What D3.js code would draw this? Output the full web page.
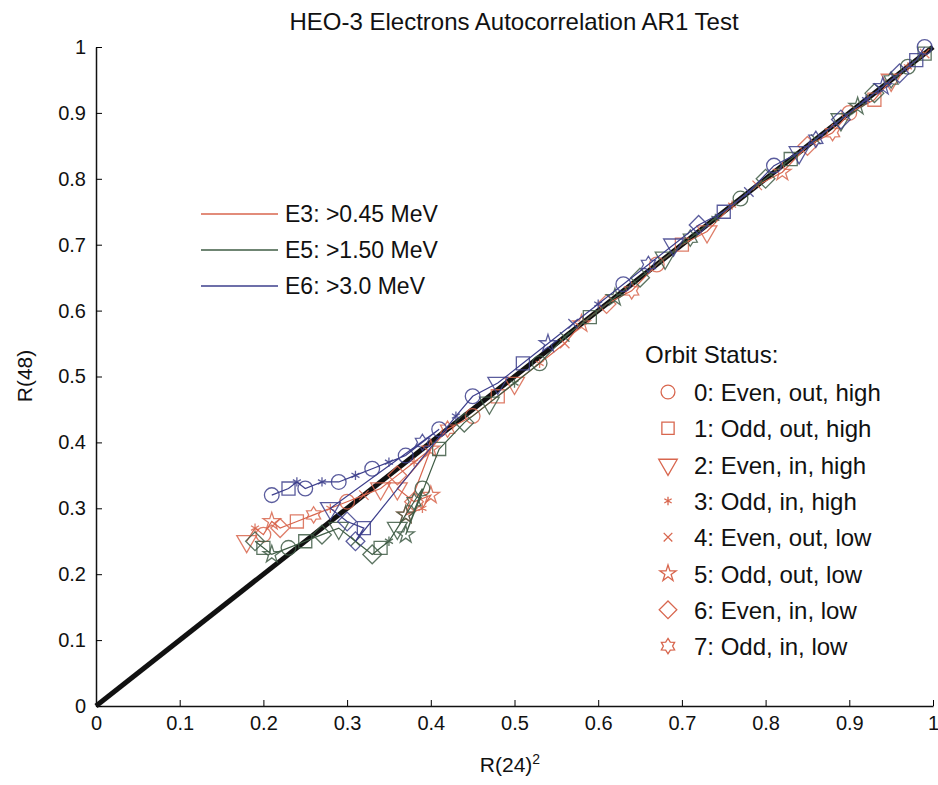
<!DOCTYPE html>
<html>
<head>
<script src="https://cdn.jsdelivr.net/npm/d3@7"></script>
<style>
body { margin: 0; background: #fff; }
text { font-family: Arial, "Liberation Sans", sans-serif; fill: #111; }
</style>
</head>
<body>
<svg id="chart" width="938" height="785"></svg>
<script>
// E3 (>0.45 MeV): x = R(24)^2, y = R(48), s = orbit status
var e3x = [0.18,0.19,0.20,0.21,0.22,0.24,0.26,0.28,0.30,0.32,0.34,0.36,0.38,0.40,0.37,0.39,0.40,0.38,0.36,0.42,0.45,0.48,0.50,0.53,0.56,0.58,0.61,0.64,0.67,0.70,0.73,0.76,0.79,0.82,0.85,0.88,0.90,0.93,0.95,0.97,0.99];
var e3y = [0.25,0.27,0.26,0.28,0.27,0.28,0.29,0.30,0.31,0.32,0.33,0.35,0.37,0.39,0.29,0.30,0.32,0.31,0.33,0.42,0.44,0.47,0.49,0.52,0.55,0.58,0.61,0.63,0.67,0.70,0.72,0.76,0.79,0.81,0.85,0.87,0.90,0.92,0.95,0.97,0.99];
var e3s = [2,3,0,5,6,1,7,3,0,4,2,6,3,5,5,3,5,6,2,7,0,1,2,3,4,5,6,7,0,1,2,3,4,5,6,7,0,1,2,3,4];
// E5 (>1.50 MeV)
var e5x = [0.19,0.20,0.21,0.23,0.25,0.27,0.29,0.31,0.33,0.34,0.35,0.36,0.37,0.38,0.39,0.37,0.41,0.44,0.47,0.50,0.53,0.56,0.59,0.62,0.65,0.68,0.71,0.74,0.77,0.80,0.83,0.86,0.89,0.91,0.93,0.95,0.97,0.99];
var e5y = [0.25,0.24,0.23,0.24,0.25,0.26,0.27,0.25,0.23,0.24,0.25,0.27,0.29,0.31,0.33,0.26,0.39,0.43,0.46,0.49,0.52,0.56,0.59,0.62,0.65,0.68,0.71,0.74,0.77,0.80,0.83,0.86,0.89,0.91,0.93,0.95,0.97,0.99];
var e5s = [6,1,5,0,1,6,2,4,6,1,3,2,5,7,0,5,1,6,2,3,0,4,1,5,6,2,7,3,0,6,1,4,2,5,6,7,0,1];
// E6 (>3.0 MeV)
var e6x = [0.21,0.23,0.24,0.25,0.27,0.29,0.31,0.33,0.35,0.37,0.39,0.41,0.28,0.30,0.32,0.31,0.43,0.45,0.48,0.51,0.54,0.57,0.60,0.63,0.66,0.69,0.72,0.75,0.78,0.81,0.84,0.86,0.89,0.92,0.94,0.96,0.98,0.99];
var e6y = [0.32,0.33,0.34,0.33,0.34,0.34,0.35,0.36,0.37,0.38,0.40,0.42,0.30,0.28,0.27,0.25,0.44,0.47,0.49,0.52,0.55,0.58,0.61,0.64,0.67,0.70,0.73,0.75,0.78,0.82,0.84,0.86,0.89,0.92,0.94,0.96,0.98,1.00];
var e6s = [0,1,3,0,3,0,3,0,3,0,7,0,2,6,1,6,3,0,2,1,5,4,3,0,7,2,6,1,4,0,2,7,6,3,5,6,1,0];

var seriesNames = ["E3: >0.45 MeV", "E5: >1.50 MeV", "E6: >3.0 MeV"];
var seriesColors = ["#d8664e", "#3f5c45", "#3d3f8c"];
var statusNames = ["0: Even, out, high","1: Odd, out, high","2: Even, in, high","3: Odd, in, high","4: Even, out, low","5: Odd, out, low","6: Even, in, low","7: Odd, in, low"];
var ticks = [0,0.1,0.2,0.3,0.4,0.5,0.6,0.7,0.8,0.9,1];

var svg = d3.select("#chart");
var x = d3.scaleLinear().domain([0,1]).range([96,933]);
var y = d3.scaleLinear().domain([0,1]).range([706,47]);

var fmt = function(d){ return d === 0 || d === 1 ? String(d) : d3.format(".1f")(d); };

var gx = svg.append("g").attr("transform","translate(0,706)")
  .call(d3.axisBottom(x).tickValues(ticks).tickFormat(fmt).tickSizeInner(-6).tickSizeOuter(0).tickPadding(10));
var gy = svg.append("g").attr("transform","translate(96,0)")
  .call(d3.axisLeft(y).tickValues(ticks).tickFormat(fmt).tickSizeInner(-6).tickSizeOuter(0).tickPadding(10));
[gx,gy].forEach(function(g){
  g.selectAll("text").style("font-size","20px").style("font-family","Arial, 'Liberation Sans', sans-serif");
  g.select(".domain").attr("stroke","#111").attr("stroke-width",1.5);
});

svg.append("text").attr("x",514).attr("y",30).attr("text-anchor","middle").style("font-size","24px")
  .text("HEO-3 Electrons Autocorrelation AR1 Test");
var xl = svg.append("text").attr("x",510).attr("y",772).attr("text-anchor","middle").style("font-size","21px");
xl.append("tspan").text("R(24)");
xl.append("tspan").attr("dy",-8).style("font-size","14px").text("2");
svg.append("text").attr("transform","translate(32,376) rotate(-90)").attr("text-anchor","middle").style("font-size","21px").text("R(48)");

function hexagram(size){
  var r = Math.sqrt(size)/1.6, p = [];
  for (var i=0;i<12;i++){ var a = Math.PI/6*i - Math.PI/2, rr = i%2 ? r*0.6 : r; p.push([rr*Math.cos(a), rr*Math.sin(a)]); }
  return "M" + p.join("L") + "Z";
}
function diamond(size){
  var r = Math.sqrt(size)*0.72;
  return "M0," + (-r) + "L" + r + ",0L0," + r + "L" + (-r) + ",0Z";
}
function markerPath(s, size){
  var types = [d3.symbolCircle, d3.symbolSquare, d3.symbolTriangle, d3.symbolAsterisk, d3.symbolTimes, d3.symbolStar];
  if (s === 7) return hexagram(size);
  if (s === 6) return diamond(size);
  if (s === 5) return d3.symbol().type(d3.symbolStar).size(size*0.55)();
  return d3.symbol().type(types[s]).size(size)();
}

// y = x reference line
svg.append("line").attr("x1",x(0)).attr("y1",y(0)).attr("x2",x(1)).attr("y2",y(1))
  .attr("stroke","#111").attr("stroke-width",5);

var all = [[e3x,e3y,e3s],[e5x,e5y,e5s],[e6x,e6y,e6s]];
all.forEach(function(sr, k){
  var pts = sr[0].map(function(v,i){ return {x:v, y:sr[1][i], s:sr[2][i]}; });
  svg.append("path").datum(pts).attr("fill","none").attr("stroke",seriesColors[k]).attr("stroke-width",1.2)
    .attr("d", d3.line().x(function(d){return x(d.x);}).y(function(d){return y(d.y);}));
  svg.selectAll(null).data(pts).enter().append("path")
    .attr("transform", function(d){ return "translate("+x(d.x)+","+y(d.y)+")" + (d.s===2 ? " rotate(180)" : ""); })
    .attr("d", function(d){ return markerPath(d.s, d.s===3||d.s===4 ? 60 : 170); })
    .attr("fill","none").attr("stroke",seriesColors[k]).attr("stroke-width",1.3).attr("opacity",0.85);
});

// series legend
seriesNames.forEach(function(n,i){
  var yy = 214 + i*36;
  svg.append("line").attr("x1",201).attr("x2",278).attr("y1",yy).attr("y2",yy).attr("stroke",seriesColors[i]).attr("stroke-width",1.5);
  svg.append("text").attr("x",285).attr("y",yy+8).style("font-size","23px").text(n);
});

// orbit status legend
svg.append("text").attr("x",645).attr("y",363).style("font-size","24px").text("Orbit Status:");
statusNames.forEach(function(n,i){
  var yy = 392 + i*36.3;
  svg.append("path").attr("transform","translate(668,"+yy+")" + (i===2 ? " rotate(180)" : ""))
    .attr("d", markerPath(i, i===3||i===4 ? 50 : 150)).attr("fill", i===3 ? "#d84a30" : "none")
    .attr("stroke", "#d8664e").attr("stroke-width",1.3);
  svg.append("text").attr("x",694).attr("y",yy+9).style("font-size","24px").text(n);
});
</script>
</body>
</html>
